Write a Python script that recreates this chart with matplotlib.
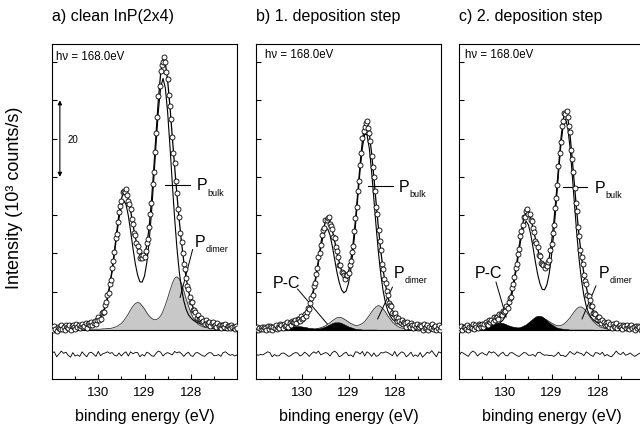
import numpy as np
import matplotlib.pyplot as plt

plt.rcParams['font.family'] = ['Liberation Sans', 'DejaVu Sans']

# P 2p spectra, intensity in 10^3 counts/s
# measured points every 0.025 eV from 131.0 down to 127.0 eV,
# fit components every 0.05 eV on the same range
energy = np.linspace(131.0, 127.0, 161)
fit_energy = energy[::2]

titles = ['a) clean InP(2x4)', 'b) 1. deposition step', 'c) 2. deposition step']
photon = 'h\u03bd = 168.0eV'
xticks = [130, 129, 128]
yticks = [0, 10, 20, 30, 40, 50, 60, 70]
resid_offset = -6.3

# ---- a) clean InP(2x4)
counts_a = [
    0.8, 0.0, 1.1, 0.3, -0.2, 0.9, 0.6, 0.2, 1.4, 0.3,
    0.8, 0.0, 1.2, 0.7, 0.4, 1.4, -0.1, 1.0, 1.2, 0.7,
    0.3, 1.5, 0.7, 1.2, 0.4, 1.1, 1.6, 0.7, 1.0, 1.8,
    0.5, 1.5, 1.7, 1.2, 2.1, 1.2, 1.8, 2.4, 1.5, 2.6,
    3.3, 2.7, 2.9, 4.4, 4.6, 4.6, 6.5, 7.2, 9.2, 9.6,
    12.0, 13.0, 16.2, 18.1, 20.3, 23.9, 25.2, 28.3, 30.8, 32.4,
    33.7, 36.0, 36.4, 36.0, 36.7, 35.2, 33.6, 33.0, 31.7, 29.0,
    27.7, 25.3, 24.7, 22.7, 22.0, 20.7, 18.9, 19.3, 18.7, 19.5,
    19.1, 20.6, 22.6, 23.7, 27.0, 30.3, 33.2, 38.2, 41.3, 46.6,
    51.5, 55.6, 61.0, 63.6, 67.6, 69.3, 70.1, 71.3, 69.9, 67.5,
    65.6, 61.4, 58.5, 55.1, 50.4, 46.3, 43.6, 39.0, 35.8, 31.6,
    29.4, 25.4, 23.0, 20.2, 17.2, 16.0, 13.7, 11.4, 10.8, 8.7,
    7.4, 7.3, 5.3, 5.3, 4.8, 3.2, 3.9, 3.0, 2.9, 3.1,
    2.0, 2.4, 1.5, 2.5, 1.8, 1.5, 2.0, 1.0, 1.8, 2.1,
    1.0, 1.4, 0.8, 1.7, 1.0, 1.4, 0.5, 1.2, 1.4, 0.7,
    1.5, 0.4, 1.0, 1.1, 0.5, 1.3, 0.7, 0.9, 0.3, 1.1,
    0.5]
bulk_a = [
    0.4, 0.4, 0.4, 0.5, 0.5, 0.5, 0.6, 0.6, 0.6, 0.7,
    0.7, 0.8, 0.9, 0.9, 1.0, 1.1, 1.2, 1.4, 1.6, 1.9,
    2.4, 3.1, 4.2, 5.9, 8.2, 11.4, 15.3, 19.9, 24.8, 29.2,
    32.5, 33.8, 32.8, 29.9, 25.8, 21.4, 17.4, 14.4, 12.6, 12.5,
    14.1, 17.6, 23.1, 30.5, 39.2, 48.6, 57.2, 63.4, 65.7, 63.3,
    56.9, 48.1, 38.5, 29.4, 21.6, 15.4, 10.8, 7.6, 5.4, 4.0,
    3.2, 2.6, 2.2, 1.9, 1.7, 1.5, 1.4, 1.2, 1.1, 1.1,
    1.0, 0.9, 0.8, 0.8, 0.7, 0.7, 0.7, 0.6, 0.6, 0.6,
    0.5]
dimer_a = [
    0.1, 0.1, 0.1, 0.1, 0.1, 0.1, 0.1, 0.1, 0.1, 0.1,
    0.1, 0.1, 0.1, 0.1, 0.1, 0.1, 0.2, 0.2, 0.2, 0.2,
    0.2, 0.2, 0.3, 0.3, 0.4, 0.4, 0.5, 0.7, 0.9, 1.3,
    1.7, 2.4, 3.3, 4.2, 5.3, 6.2, 6.9, 7.2, 7.0, 6.3,
    5.5, 4.5, 3.7, 3.1, 2.7, 2.7, 3.0, 3.7, 4.9, 6.5,
    8.3, 10.3, 12.1, 13.5, 13.9, 13.4, 12.1, 10.2, 8.2, 6.3,
    4.6, 3.3, 2.3, 1.6, 1.2, 0.9, 0.7, 0.6, 0.5, 0.4,
    0.4, 0.3, 0.3, 0.3, 0.3, 0.2, 0.2, 0.2, 0.2, 0.2,
    0.2]

# ---- b) 1. deposition step
counts_b = [
    0.2, 0.8, 0.0, 0.6, 0.3, 0.9, 0.2, 0.8, 0.6, 0.0,
    1.1, 0.3, 1.0, 0.8, 0.0, 0.9, 0.6, 1.2, 0.3, 0.9,
    0.5, 1.6, 1.2, 0.5, 1.5, 1.0, 1.3, 2.0, 0.9, 1.8,
    1.4, 2.4, 2.1, 2.0, 2.7, 1.7, 2.8, 2.8, 2.3, 3.6,
    2.9, 3.2, 4.2, 3.7, 4.8, 5.7, 5.5, 7.1, 8.4, 9.2,
    11.6, 12.2, 14.7, 16.3, 19.1, 20.0, 22.2, 24.7, 26.0, 26.7,
    28.7, 28.6, 29.3, 29.4, 27.7, 27.1, 26.5, 24.3, 24.1, 21.6,
    20.6, 19.0, 17.0, 17.1, 15.1, 15.0, 14.3, 13.3, 14.4, 14.4,
    14.8, 17.0, 18.0, 20.5, 22.0, 25.8, 29.3, 32.0, 36.3, 39.0,
    43.2, 46.2, 50.1, 52.1, 52.9, 54.1, 54.7, 52.7, 51.5, 49.4,
    45.5, 42.7, 39.9, 36.2, 32.2, 30.2, 26.0, 23.3, 20.9, 17.3,
    15.9, 13.2, 12.4, 10.1, 9.1, 7.0, 6.6, 6.2, 4.5, 4.1,
    4.5, 3.5, 2.4, 3.1, 2.4, 1.7, 2.5, 1.5, 2.0, 1.8,
    0.8, 2.0, 1.2, 0.9, 1.7, 1.3, 0.5, 1.4, 0.8, 1.6,
    0.4, 0.8, 1.3, 1.1, 0.0, 1.5, 0.5, 0.8, 1.2, 0.1,
    0.9, 0.4, 1.5, 0.2, 0.7, 1.0, -0.1, 0.4, 1.2, 0.1,
    0.9]
bulk_b = [
    0.3, 0.3, 0.4, 0.4, 0.4, 0.4, 0.4, 0.5, 0.5, 0.6,
    0.6, 0.6, 0.7, 0.8, 0.8, 0.9, 1.0, 1.2, 1.4, 1.7,
    2.1, 2.8, 3.9, 5.4, 7.6, 10.4, 13.8, 17.5, 21.3, 24.4,
    26.3, 26.4, 24.8, 21.9, 18.5, 15.1, 12.4, 10.5, 9.7, 10.2,
    12.2, 15.8, 20.8, 27.2, 34.4, 41.6, 47.6, 51.1, 51.0, 47.4,
    41.3, 34.0, 26.6, 19.9, 14.4, 10.1, 7.1, 5.0, 3.7, 2.8,
    2.3, 1.9, 1.6, 1.4, 1.3, 1.2, 1.1, 1.0, 0.9, 0.8,
    0.8, 0.7, 0.7, 0.6, 0.6, 0.6, 0.5, 0.5, 0.5, 0.5,
    0.5]
dimer_b = [
    0.0, 0.0, 0.0, 0.0, 0.0, 0.0, 0.1, 0.1, 0.1, 0.1,
    0.1, 0.1, 0.1, 0.1, 0.1, 0.1, 0.1, 0.1, 0.1, 0.1,
    0.1, 0.1, 0.1, 0.2, 0.2, 0.2, 0.3, 0.4, 0.6, 0.8,
    1.1, 1.5, 1.9, 2.4, 2.8, 3.2, 3.3, 3.2, 2.9, 2.5,
    2.1, 1.7, 1.4, 1.2, 1.2, 1.4, 1.7, 2.2, 3.0, 3.8,
    4.7, 5.5, 6.1, 6.4, 6.1, 5.5, 4.7, 3.7, 2.9, 2.1,
    1.5, 1.1, 0.7, 0.5, 0.4, 0.3, 0.3, 0.2, 0.2, 0.2,
    0.2, 0.2, 0.1, 0.1, 0.1, 0.1, 0.1, 0.1, 0.1, 0.1,
    0.1]
pc_b = [
    0.0, 0.0, 0.0, 0.0, 0.0, 0.1, 0.1, 0.1, 0.1, 0.1,
    0.2, 0.3, 0.4, 0.5, 0.6, 0.8, 0.9, 1.0, 1.0, 1.0,
    0.9, 0.8, 0.7, 0.5, 0.5, 0.4, 0.4, 0.4, 0.5, 0.7,
    0.9, 1.2, 1.5, 1.8, 2.0, 2.0, 2.0, 1.8, 1.5, 1.2,
    0.9, 0.7, 0.5, 0.3, 0.2, 0.2, 0.1, 0.1, 0.1, 0.1,
    0.1, 0.1, 0.1, 0.0, 0.0, 0.0, 0.0, 0.0, 0.0, 0.0,
    0.0, 0.0, 0.0, 0.0, 0.0, 0.0, 0.0, 0.0, 0.0, 0.0,
    0.0, 0.0, 0.0, 0.0, 0.0, 0.0, 0.0, 0.0, 0.0, 0.0,
    0.0]

# ---- c) 2. deposition step
counts_c = [
    0.1, 0.5, 1.0, 0.0, 0.7, 0.9, 0.3, 1.3, 0.0, 0.7,
    0.9, 0.5, 1.5, 0.3, 1.3, 0.7, 0.4, 1.5, 1.2, 0.8,
    1.6, 0.7, 1.5, 2.0, 1.5, 1.4, 2.7, 2.1, 2.7, 2.1,
    3.4, 2.7, 3.4, 3.4, 3.0, 4.2, 4.1, 3.8, 5.0, 4.6,
    4.9, 6.3, 5.8, 7.3, 8.4, 8.5, 10.9, 12.0, 13.9, 16.1,
    17.3, 19.9, 21.2, 24.5, 25.8, 27.4, 29.5, 29.6, 31.1, 31.7,
    30.4, 30.2, 28.8, 28.5, 26.6, 25.6, 23.3, 22.7, 21.6, 19.7,
    19.4, 17.4, 17.2, 16.9, 16.1, 16.9, 16.7, 17.8, 18.4, 20.9,
    22.4, 25.4, 27.5, 31.9, 34.6, 37.9, 42.8, 46.2, 49.1, 53.3,
    54.6, 56.6, 56.5, 57.3, 55.6, 53.4, 51.7, 47.1, 44.7, 41.3,
    37.2, 33.2, 31.0, 27.0, 24.5, 20.9, 19.1, 17.2, 14.3, 12.8,
    11.9, 9.1, 8.8, 7.8, 6.3, 6.3, 4.5, 4.4, 4.3, 2.9,
    3.3, 3.5, 2.3, 1.9, 2.5, 2.0, 1.2, 1.9, 1.4, 2.0,
    0.9, 1.5, 0.5, 1.6, 1.1, 0.8, 1.8, 0.5, 1.1, 1.2,
    0.7, 0.2, 1.3, 1.0, 0.4, 1.4, 0.6, 0.2, 1.0, 1.4,
    0.4, 0.7, 0.0, 1.0, 0.4, 1.1, 0.8, -0.1, 0.9, 0.4,
    1.1]
bulk_c = [
    0.4, 0.4, 0.4, 0.4, 0.5, 0.5, 0.5, 0.6, 0.6, 0.7,
    0.7, 0.8, 0.9, 0.9, 1.0, 1.2, 1.4, 1.6, 2.0, 2.6,
    3.5, 4.9, 6.9, 9.5, 12.9, 16.7, 20.8, 24.5, 27.3, 28.4,
    27.5, 25.0, 21.6, 17.9, 14.6, 12.1, 10.6, 10.5, 11.8, 14.7,
    19.4, 25.5, 32.9, 40.7, 47.9, 53.2, 55.1, 53.0, 47.7, 40.3,
    32.3, 24.7, 18.1, 12.9, 9.0, 6.3, 4.5, 3.4, 2.7, 2.2,
    1.8, 1.6, 1.4, 1.3, 1.2, 1.1, 1.0, 0.9, 0.8, 0.8,
    0.7, 0.7, 0.6, 0.6, 0.6, 0.5, 0.5, 0.5, 0.5, 0.5,
    0.4]
dimer_c = [
    0.0, 0.0, 0.0, 0.0, 0.0, 0.0, 0.1, 0.1, 0.1, 0.1,
    0.1, 0.1, 0.1, 0.1, 0.1, 0.1, 0.1, 0.1, 0.1, 0.1,
    0.1, 0.1, 0.1, 0.1, 0.2, 0.3, 0.3, 0.5, 0.6, 0.9,
    1.2, 1.6, 2.1, 2.5, 2.9, 3.1, 3.1, 2.9, 2.6, 2.2,
    1.8, 1.5, 1.2, 1.1, 1.2, 1.4, 1.9, 2.5, 3.2, 4.1,
    4.9, 5.6, 6.0, 6.0, 5.6, 4.9, 4.0, 3.1, 2.3, 1.7,
    1.2, 0.8, 0.6, 0.4, 0.3, 0.3, 0.2, 0.2, 0.2, 0.2,
    0.1, 0.1, 0.1, 0.1, 0.1, 0.1, 0.1, 0.1, 0.1, 0.1,
    0.1]
pc_c = [
    0.1, 0.1, 0.1, 0.1, 0.1, 0.1, 0.1, 0.2, 0.2, 0.3,
    0.4, 0.6, 0.8, 1.0, 1.3, 1.5, 1.8, 1.9, 1.9, 1.8,
    1.6, 1.3, 1.1, 0.9, 0.8, 0.7, 0.7, 0.9, 1.2, 1.5,
    2.0, 2.5, 3.0, 3.5, 3.7, 3.7, 3.5, 3.0, 2.5, 1.9,
    1.5, 1.1, 0.7, 0.5, 0.4, 0.3, 0.2, 0.2, 0.1, 0.1,
    0.1, 0.1, 0.1, 0.1, 0.1, 0.1, 0.1, 0.1, 0.1, 0.0,
    0.0, 0.0, 0.0, 0.0, 0.0, 0.0, 0.0, 0.0, 0.0, 0.0,
    0.0, 0.0, 0.0, 0.0, 0.0, 0.0, 0.0, 0.0, 0.0, 0.0,
    0.0]


def draw_panel(ax, counts, bulk, dimer, pc=None):
    counts = np.array(counts)
    bulk = np.array(bulk)
    dimer = np.array(dimer)
    fit = bulk + dimer
    ax.axhline(0, color='k', lw=0.8, zorder=2)
    ax.fill_between(fit_energy, 0, dimer, color='#c8c8c8', lw=0, zorder=1)
    ax.plot(fit_energy, dimer, color='#333333', lw=0.6, zorder=1.5)
    if pc is not None:
        pc = np.array(pc)
        fit = fit + pc
        ax.fill_between(fit_energy, 0, pc, color='k', lw=0.4, zorder=1.6)
    ax.plot(fit_energy, bulk, color='k', lw=0.8, zorder=3)
    ax.plot(fit_energy, fit, color='k', lw=0.9, zorder=3)
    ax.plot(energy, counts, 'o', ms=3.6, mfc='white', mec='k', mew=0.6, zorder=4)
    # residual (data - fit), shifted below the zero line
    ax.plot(fit_energy, counts[::2] - fit + resid_offset, color='k', lw=0.6)

    ax.set_xlim(131.0, 127.0)
    ax.set_ylim(-12.8, 74.7)
    ax.set_xticks(xticks)
    ax.set_xticks([130.5, 129.5, 128.5, 127.5], minor=True)
    ax.set_yticks(yticks)
    ax.set_yticklabels([])
    ax.tick_params(direction='in', length=3.5, width=0.8, labelsize=9.5, pad=5)
    ax.tick_params(which='minor', direction='in', length=2, width=0.8)
    for s in ax.spines.values():
        s.set_linewidth(0.8)
    ax.set_xlabel('binding energy (eV)', fontsize=11.5)
    ax.xaxis.set_label_coords(0.5, -0.087)


def p_label(ax, x, y, sub):
    ax.text(x, y, 'P', fontsize=11.5, ha='left', va='center')
    ax.text(x - 0.23, y - 2.0, sub, fontsize=6.5, ha='left', va='center')


fig = plt.figure(figsize=(6.4, 4.31), dpi=100)
w, h, b = 185 / 640, 335 / 431, 51 / 431
axa = fig.add_axes([52 / 640, b, w, h])
axb = fig.add_axes([256 / 640, b, w, h])
axc = fig.add_axes([459 / 640, b, w, h])

draw_panel(axa, counts_a, bulk_a, dimer_a)
draw_panel(axb, counts_b, bulk_b, dimer_b, pc_b)
draw_panel(axc, counts_c, bulk_c, dimer_c, pc_c)

for ax, t in zip([axa, axb, axc], titles):
    ax.text(0.0, 1 + 28 / 335, t, transform=ax.transAxes, fontsize=11.5,
            ha='left', va='center')

axa.text(130.91, 71.5, photon, fontsize=8.3, ha='left', va='center')
axb.text(130.81, 72.0, photon, fontsize=8.3, ha='left', va='center')
axc.text(130.87, 72.0, photon, fontsize=8.3, ha='left', va='center')

# scale bar in panel a
axa.annotate('', xy=(130.83, 40), xytext=(130.83, 60),
             arrowprops=dict(arrowstyle='<|-|>', mutation_scale=6, lw=0.8,
                             color='k', shrinkA=0, shrinkB=0))
axa.text(130.66, 50, '20', fontsize=7, ha='left', va='center')

# P bulk labels
axa.plot([128.56, 128.02], [37.9, 37.9], color='k', lw=0.8)
p_label(axa, 127.88, 37.9, 'bulk')
axb.plot([128.58, 128.03], [37.6, 37.6], color='k', lw=0.8)
p_label(axb, 127.91, 37.6, 'bulk')
axc.plot([128.75, 128.23], [37.3, 37.3], color='k', lw=0.8)
p_label(axc, 128.06, 37.3, 'bulk')

# P dimer labels
p_label(axa, 127.91, 23.2, 'dimer')
axa.plot([127.96, 128.23], [21.0, 8.5], color='k', lw=0.7)
p_label(axb, 128.02, 15.1, 'dimer')
axb.plot([128.05, 128.37], [11.2, 2.9], color='k', lw=0.7)
p_label(axc, 127.97, 15.1, 'dimer')
axc.plot([128.04, 128.34], [11.5, 2.9], color='k', lw=0.7)

# P-C labels
axb.text(130.35, 12.5, 'P-C', fontsize=11.5, ha='center', va='center')
axb.plot([130.10, 129.46], [10.7, 1.6], color='k', lw=0.7)
axc.text(130.37, 14.9, 'P-C', fontsize=11.5, ha='center', va='center')
axc.plot([130.20, 129.98], [12.5, 3.4], color='k', lw=0.7)

fig.text(15 / 640, 1 - 198 / 431, 'Intensity (10\u00b3 counts/s)', rotation=90,
         fontsize=13, ha='center', va='center')

fig.savefig('out.png', dpi=100)
